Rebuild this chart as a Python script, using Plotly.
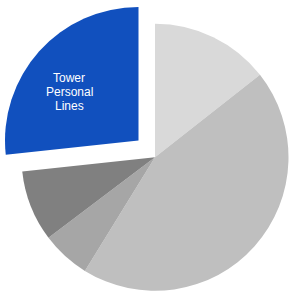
import plotly.graph_objects as go

labels = ["Segment A", "Segment B", "Segment C", "Segment D", "Tower Personal Lines"]
values = [14.4, 44.4, 5.9, 8.6, 26.7]
colors = ["#d9d9d9", "#bfbfbf", "#a6a6a6", "#808080", "#1150be"]
highlight = "Tower Personal Lines"

W, H = 292, 291
transparent = "rgba(0,0,0,0)"

base_colors = [transparent if l == highlight else c for l, c in zip(labels, colors)]
hi_colors = [c if l == highlight else transparent for l, c in zip(labels, colors)]

fig = go.Figure()
common = dict(labels=labels, values=values, sort=False, direction="clockwise",
              rotation=0, textinfo="none", hoverinfo="skip", showlegend=False)
fig.add_trace(go.Pie(marker=dict(colors=base_colors, line=dict(width=0)),
                     domain=dict(x=[21.5 / W, 288.5 / W], y=[1 - 290.8 / H, 1 - 23.8 / H]),
                     **common))
fig.add_trace(go.Pie(marker=dict(colors=hi_colors, line=dict(width=0)),
                     domain=dict(x=[5 / W, 272 / W], y=[1 - 274 / H, 1 - 7 / H]),
                     **common))

words = highlight.split(" ")
line_gap = 13.5
center_y = 92
for i, w in enumerate(words):
    yy = center_y + (i - (len(words) - 1) / 2) * line_gap
    fig.add_annotation(x=69 / W, y=1 - yy / H, xref="paper", yref="paper",
                       text=w, showarrow=False,
                       font=dict(family="Liberation Sans, Arial", size=12, color="white"),
                       xanchor="center", yanchor="middle", align="center")

fig.update_layout(width=W, height=H, margin=dict(l=0, r=0, t=0, b=0),
                  paper_bgcolor="white", plot_bgcolor="white")
fig.write_html("out.html", config={"displayModeBar": False},
               post_script="document.body.style.margin='0';document.body.style.overflow='hidden';")
